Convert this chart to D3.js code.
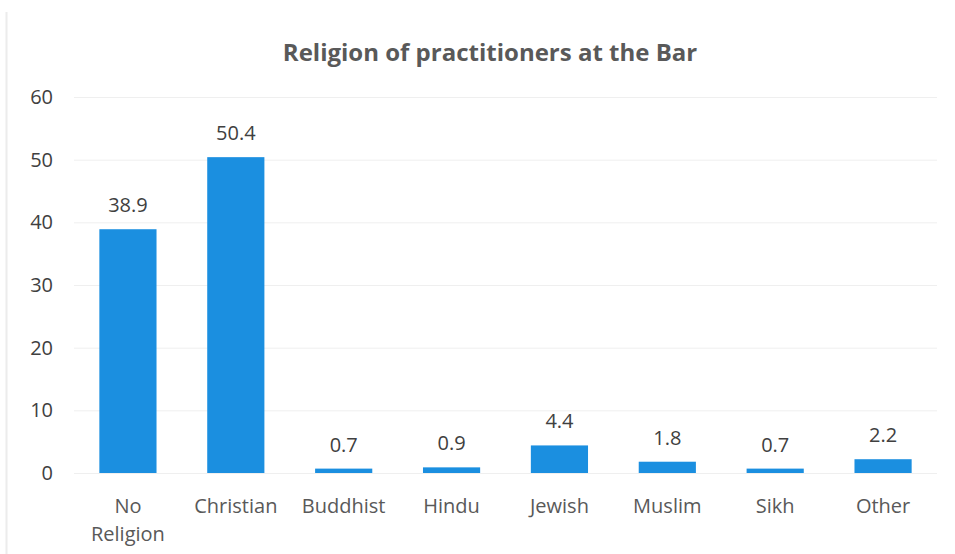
<!DOCTYPE html>
<html>
<head>
<meta charset="utf-8">
<script src="https://cdn.jsdelivr.net/npm/d3@7"></script>
<style>
  html, body { margin: 0; padding: 0; background: #fff; }
  svg { display: block; }
  text { font-family: "Open Sans", "Noto Sans", sans-serif; }
</style>
</head>
<body>
<svg id="chart" width="955" height="554"></svg>
<script>
// Share of practitioners at the Bar by religion (%)
const categories = ["No Religion", "Christian", "Buddhist", "Hindu", "Jewish", "Muslim", "Sikh", "Other"];
const values = [38.9, 50.4, 0.7, 0.9, 4.4, 1.8, 0.7, 2.2];
const yTicks = [0, 10, 20, 30, 40, 50, 60];
const title = "Religion of practitioners at the Bar";

const svg = d3.select("#chart");
const W = 955, H = 554;
const margin = { left: 74, right: 18, top: 97, bottom: 81 };

const x = d3.scaleBand()
  .domain(categories)
  .range([margin.left, W - margin.right])
  .paddingInner(0.47)
  .paddingOuter(0.235);

const y = d3.scaleLinear()
  .domain([0, 60])
  .range([H - margin.bottom, margin.top]);

// faint frame edge on the left
svg.append("line")
  .attr("x1", 6.5).attr("x2", 6.5)
  .attr("y1", 12).attr("y2", H)
  .attr("stroke", "#ececec").attr("stroke-width", 2);

// title
svg.append("text")
  .attr("x", 490).attr("y", 61)
  .attr("text-anchor", "middle")
  .attr("font-size", 24)
  .attr("font-weight", 700)
  .attr("fill", "#595959")
  .text(title);

// gridlines
svg.append("g")
  .selectAll("line")
  .data(yTicks)
  .join("line")
  .attr("x1", margin.left).attr("x2", W - margin.right)
  .attr("y1", d => y(d) + 0.5).attr("y2", d => y(d) + 0.5)
  .attr("stroke", "#efefef").attr("stroke-width", 1);

// y axis labels
const yAxis = d3.axisLeft(y).tickValues(yTicks).tickSize(0).tickPadding(0);
svg.append("g")
  .attr("transform", `translate(53,0)`)
  .call(yAxis)
  .call(g => g.select(".domain").remove())
  .call(g => g.selectAll("text")
    .attr("font-size", 20)
    .attr("fill", "#404040")
    .attr("font-family", "'Open Sans', sans-serif"));

// bars
svg.append("g")
  .selectAll("rect")
  .data(values)
  .join("rect")
  .attr("x", (d, i) => x(categories[i]))
  .attr("y", d => y(d))
  .attr("width", x.bandwidth())
  .attr("height", d => y(0) - y(d))
  .attr("fill", "#1b8fe0");

// value labels
svg.append("g")
  .selectAll("text")
  .data(values)
  .join("text")
  .attr("x", (d, i) => x(categories[i]) + x.bandwidth() / 2)
  .attr("y", d => y(d) - 17)
  .attr("text-anchor", "middle")
  .attr("font-size", 20)
  .attr("fill", "#404040")
  .text(d => d.toFixed(1));

// category labels (wrapped on spaces)
const xAxis = svg.append("g");
categories.forEach(c => {
  const t = xAxis.append("text")
    .attr("x", x(c) + x.bandwidth() / 2)
    .attr("y", 513)
    .attr("text-anchor", "middle")
    .attr("font-size", 20)
    .attr("fill", "#595959");
  c.split(" ").forEach((w, k) => {
    t.append("tspan")
      .attr("x", x(c) + x.bandwidth() / 2)
      .attr("dy", k === 0 ? 0 : 28)
      .text(w);
  });
});
</script>
</body>
</html>
